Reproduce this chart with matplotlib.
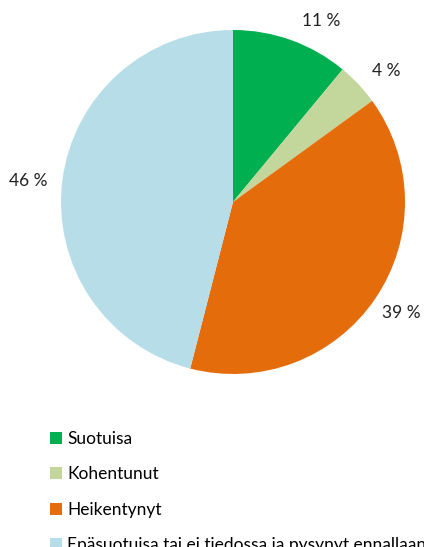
import matplotlib.pyplot as plt

categories = ["Suotuisa", "Kohentunut", "Heikentynyt",
              "Epäsuotuisa tai ei tiedossa ja pysynyt ennallaan"]
shares = [11, 4, 39, 46]
colors = ["#00b050", "#c3d69b", "#e46c0a", "#b7dee8"]
# label positions in pie data units (radius = 1)
label_pos = [(0.51, 1.05), (0.89, 0.76), (0.98, -0.645), (-1.19, 0.12)]

plt.rcParams['font.family'] = ['Lato', 'DejaVu Sans']

fig = plt.figure(figsize=(4.24, 5.47), dpi=100)
ax = fig.add_axes([0.1439, 0.3163, 0.8113, 0.6289])
wedges, _ = ax.pie(shares, colors=colors, startangle=90, counterclock=False,
                   radius=1.0)
ax.set_xlim(-1, 1)
ax.set_ylim(-1, 1)
ax.set_aspect('equal')
ax.axis('off')

for v, (x, y) in zip(shares, label_pos):
    ax.text(x, y, "%d %%" % v, ha='center', va='center', fontsize=12.5,
            color='#222222', clip_on=False)

fig.legend(wedges, categories, loc='upper left',
           bbox_to_anchor=(0.118, 0.212), frameon=False, fontsize=12.5,
           handlelength=0.68, handleheight=0.68, handletextpad=0.3,
           labelspacing=1.12, borderpad=0, borderaxespad=0)

fig.savefig("out.png", dpi=100)
